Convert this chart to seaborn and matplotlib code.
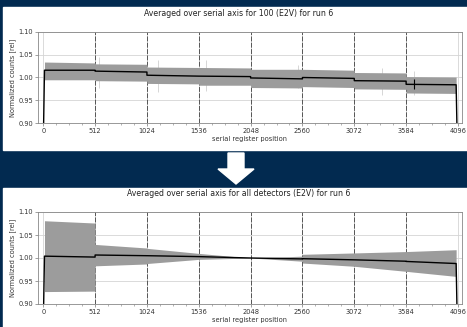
import numpy as np
import pandas as pd
import matplotlib
matplotlib.use("Agg")
import matplotlib.pyplot as plt
from matplotlib.patches import Rectangle, Polygon
from matplotlib.ticker import MultipleLocator
import seaborn as sns

# ---------------- data ----------------
seg_start = [12, 512, 1024, 1536, 2048, 2560, 3072, 3584]
seg_end = [512, 1024, 1536, 2048, 2560, 3072, 3584, 4078]
lead_x = [0]
tail_x = [4090]
edge_value = 0.85

# top panel: one CCD (100)
top_mean_a = [1.016, 1.014, 1.005, 1.003, 0.999, 1.000, 0.993, 0.985]
top_mean_b = [1.016, 1.012, 1.003, 1.002, 0.997, 0.998, 0.992, 0.984]
top_hi_a = [1.034, 1.030, 1.023, 1.022, 1.018, 1.018, 1.011, 1.002]
top_hi_b = [1.032, 1.029, 1.022, 1.021, 1.018, 1.016, 1.010, 1.001]
top_lo_a = [0.995, 0.993, 0.987, 0.983, 0.978, 0.980, 0.975, 0.966]
top_lo_b = [0.995, 0.992, 0.986, 0.983, 0.977, 0.978, 0.974, 0.965]
spike_x = [550, 1136, 1607, 2519, 3342, 3661]
spike_lo = [0.978, 0.969, 0.970, 0.976, 0.962, 0.962]
spike_hi = [1.046, 1.039, 1.039, 1.028, 1.020, 1.015]
dark_spike_x = [3661]
dark_spike_lo = [0.974]
dark_spike_hi = [0.996]

# bottom panel: all detectors
bot_mean_a = [1.004, 1.0065, 1.005, 1.003, 1.000, 0.9985, 0.996, 0.9925]
bot_mean_b = [1.002, 1.005, 1.003, 1.000, 0.998, 0.996, 0.993, 0.988]
bot_hi_a = [1.081, 1.0295, 1.021, 1.010, 1.000, 1.008, 1.011, 1.014]
bot_hi_b = [1.076, 1.0217, 1.010, 1.000, 1.004, 1.011, 1.014, 1.018]
bot_lo_a = [0.927, 0.983, 0.988, 0.997, 1.000, 0.989, 0.982, 0.971]
bot_lo_b = [0.928, 0.987, 0.997, 1.000, 0.993, 0.982, 0.971, 0.960]

titles = ["Averaged over serial axis for 100 (E2V) for run 6",
          "Averaged over serial axis for all detectors (E2V) for run 6"]
xlabel = "serial register position"
ylabel = "Normalized counts [rel]"
xticks = [0, 512, 1024, 1536, 2048, 2560, 3072, 3584, 4096]
yticks = [0.90, 0.95, 1.00, 1.05, 1.10]

# ---------------- style ----------------
sns.set_theme(style="white")
plt.rcParams["font.family"] = ["DejaVu Sans"]
NAVY = "#022a50"
W, H = 467, 327
fig = plt.figure(figsize=(W / 100, H / 100), dpi=100, facecolor=NAVY)

def fx(px):
    return px / W

def fy(py):
    return 1 - py / H

# white panels
fig.patches.append(Rectangle((fx(3), fy(150)), fx(464), 143 / H,
                             transform=fig.transFigure, color="white", zorder=-5))
fig.patches.append(Rectangle((fx(3), fy(327)), fx(464), 139 / H,
                             transform=fig.transFigure, color="white", zorder=-5))
# arrow
cx = 236
arrow = [(cx - 8, 153), (cx + 8, 153), (cx + 8, 169), (cx + 18, 169),
         (cx, 184), (cx - 18, 169), (cx - 8, 169)]
fig.patches.append(Polygon([(fx(a), fy(b)) for a, b in arrow], closed=True,
                           transform=fig.transFigure, color="white", zorder=-4))


def seg_series(a, b):
    xs, ys = [], []
    for s, e, va, vb in zip(seg_start, seg_end, a, b):
        xs += [s, e]
        ys += [va, vb]
    return xs, ys


def draw(ax, mean_a, mean_b, hi_a, hi_b, lo_a, lo_b, spikes=False):
    ax.set_facecolor("white")
    ax.set_xlim(-52, 4136)
    ax.set_ylim(0.90, 1.10)
    ax.set_xticks(xticks)
    ax.set_yticks(yticks)
    ax.set_yticklabels([f"{v:.2f}" for v in yticks])
    ax.xaxis.set_minor_locator(MultipleLocator(128))
    ax.grid(True, which="major", color="#d4d4d4", lw=0.6, zorder=0)
    ax.set_axisbelow(True)
    for v in xticks[1:-1]:
        ax.axvline(v, color="#555555", lw=0.7, ls=(0, (5, 1.5)), zorder=1)
    if spikes:
        ax.vlines(spike_x, spike_lo, spike_hi, color="#d6d6d6", lw=0.7, zorder=1.5)
    xs, hs = seg_series(hi_a, hi_b)
    _, ls_ = seg_series(lo_a, lo_b)
    ax.fill_between(xs, ls_, hs, color="#9c9c9c", lw=0, zorder=2)
    mx, my = seg_series(mean_a, mean_b)
    df = pd.DataFrame({"x": lead_x + mx + tail_x,
                       "y": [edge_value] + my + [edge_value]})
    sns.lineplot(data=df, x="x", y="y", ax=ax, sort=False, estimator=None,
                 color="black", lw=1.0, zorder=3)
    if spikes:
        ax.vlines(dark_spike_x, dark_spike_lo, dark_spike_hi, color="black", lw=0.8, zorder=3)
    ax.set_xlabel(xlabel, fontsize=4.8, color="#333333", labelpad=1.5)
    ax.set_ylabel(ylabel, fontsize=4.8, color="#333333", labelpad=2)
    ax.tick_params(axis="both", which="major", labelsize=4.8, labelcolor="#333333",
                   direction="out", length=2, width=0.5, color="#777777", pad=1.5,
                   bottom=True, left=True)
    ax.tick_params(axis="x", which="minor", direction="out", length=1.2, width=0.4,
                   color="#777777", bottom=True)
    for sp in ax.spines.values():
        sp.set_color("#888888")
        sp.set_linewidth(0.6)


ax1 = fig.add_axes([fx(38), fy(123), fx(424), 91 / H])
draw(ax1, top_mean_a, top_mean_b, top_hi_a, top_hi_b, top_lo_a, top_lo_b,
     spikes=True)
ax2 = fig.add_axes([fx(38), fy(304), fx(424), 92 / H])
draw(ax2, bot_mean_a, bot_mean_b, bot_hi_a, bot_hi_b, bot_lo_a, bot_lo_b)

fig.text(fx(238.5), fy(13), titles[0], ha="center", va="center",
         fontsize=5.6, color="#222222")
fig.text(fx(238.5), fy(194), titles[1], ha="center", va="center",
         fontsize=5.6, color="#222222")

fig.savefig("out.png", dpi=100, facecolor=NAVY)
